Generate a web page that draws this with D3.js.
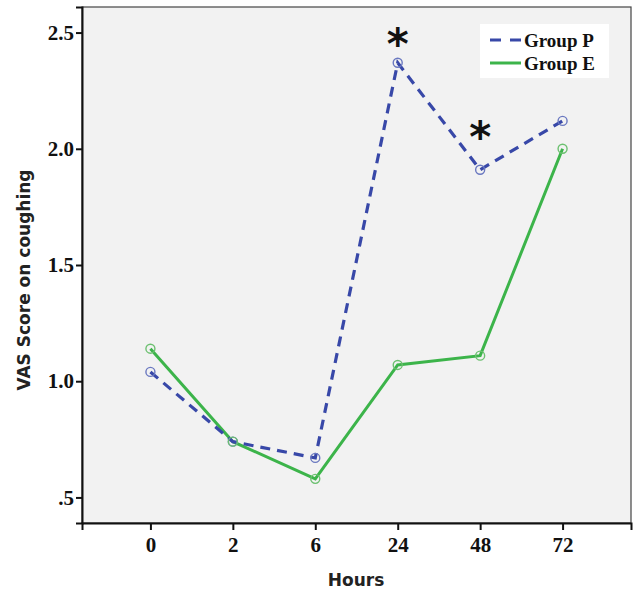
<!DOCTYPE html>
<html>
<head>
<meta charset="utf-8">
<script src="https://cdn.jsdelivr.net/npm/d3@7"></script>
<style>
  body { margin: 0; background: #fff; }
  svg { display: block; }
</style>
</head>
<body>
<svg id="chart" width="638" height="594"></svg>
<script>
// Data ------------------------------------------------------
const hours = ["0", "2", "6", "24", "48", "72"];
const groupP = [1.04, 0.74, 0.67, 2.37, 1.91, 2.12];
const groupE = [1.14, 0.74, 0.58, 1.07, 1.11, 2.00];
const yTicks = [0.5, 1.0, 1.5, 2.0, 2.5];
const yTickLabels = [".5", "1.0", "1.5", "2.0", "2.5"];
const starredHours = ["24", "48"];
const starOffsets = [0.13, 0.19]; // star centre above the Group P point (score units)

// Layout ---------------------------------------------------
let margin = { top: 7, right: 7, bottom: 71, left: 82 };
let width = 638 - margin.left - margin.right;
let height = 594 - margin.top - margin.bottom;

let svg = d3.select("#chart")
  .append("g")
  .attr("transform", `translate(${margin.left},${margin.top})`);

let x = d3.scalePoint().domain(hours).range([0, width]).padding(0.83);
let y = d3.scaleLinear().domain([0.39, 2.61]).range([height, 0]);

// plot background
svg.append("rect")
  .attr("width", width).attr("height", height)
  .attr("fill", "#f2f2f2")
  .attr("stroke", "#444").attr("stroke-width", 1.2);

// Axes
let yAxis = svg.append("g")
  .call(d3.axisLeft(y).tickValues(yTicks)
    .tickFormat((d, i) => yTickLabels[i]).tickSize(6).tickPadding(2));
let xAxis = svg.append("g")
  .attr("transform", `translate(0,${height})`)
  .call(d3.axisBottom(x).tickSize(7).tickPadding(7));

[xAxis, yAxis].forEach(a => {
  a.select(".domain").attr("stroke", "#111").attr("stroke-width", 2);
  a.selectAll(".tick line").attr("stroke", "#111").attr("stroke-width", 2);
  a.selectAll("text")
    .attr("font-family", "'Liberation Serif', 'Times New Roman', serif")
    .attr("font-weight", "bold")
    .attr("font-size", "21px")
    .attr("fill", "#111");
});

// Lines
let line = d3.line()
  .x((d, i) => x(hours[i]))
  .y(d => y(d));

svg.append("path")
  .datum(groupE)
  .attr("fill", "none")
  .attr("stroke", "#3cb44a")
  .attr("stroke-width", 3)
  .attr("d", line);

svg.append("path")
  .datum(groupP)
  .attr("fill", "none")
  .attr("stroke", "#3848a8")
  .attr("stroke-width", 3.2)
  .attr("stroke-dasharray", "10,7")
  .attr("d", line);

// markers
svg.selectAll("circle.p")
  .data(groupP).enter().append("circle")
  .attr("class", "p")
  .attr("cx", (d, i) => x(hours[i]))
  .attr("cy", d => y(d))
  .attr("r", 4.5)
  .attr("fill", "none")
  .attr("stroke", "#6a78c0")
  .attr("stroke-width", 1.4);

svg.selectAll("circle.e")
  .data(groupE).enter().append("circle")
  .attr("class", "e")
  .attr("cx", (d, i) => x(hours[i]))
  .attr("cy", d => y(d))
  .attr("r", 4.5)
  .attr("fill", "none")
  .attr("stroke", "#6cc070")
  .attr("stroke-width", 1.4);

// significance stars (baseline pushed down so the glyph centre hits the spot)
svg.selectAll("text.star")
  .data(starredHours).enter().append("text")
  .attr("class", "star")
  .attr("x", d => x(d))
  .attr("y", (d, i) => y(groupP[hours.indexOf(d)] + starOffsets[i]))
  .attr("text-anchor", "middle")
  .attr("dy", "0.62em")
  .attr("font-family", "'DejaVu Sans', sans-serif")
  .attr("font-weight", "bold")
  .attr("font-size", "42px")
  .attr("fill", "#111")
  .text("*");

// Legend
let legend = svg.append("g").attr("transform", `translate(${width - 151},17)`);
legend.append("rect")
  .attr("width", 129).attr("height", 54)
  .attr("fill", "#fff");
const legendItems = [
  { label: "Group P", color: "#3848a8", dash: "11,9" },
  { label: "Group E", color: "#3cb44a", dash: null }
];
legendItems.forEach((item, i) => {
  let g = legend.append("g").attr("transform", `translate(0,${16 + i * 23})`);
  g.append("line")
    .attr("x1", 10).attr("x2", 41)
    .attr("stroke", item.color)
    .attr("stroke-width", 3)
    .attr("stroke-dasharray", item.dash);
  g.append("text")
    .attr("x", 44).attr("dy", "0.35em")
    .attr("font-family", "'Liberation Serif', 'Times New Roman', serif")
    .attr("font-weight", "bold")
    .attr("font-size", "19px")
    .attr("fill", "#111")
    .text(item.label);
});

// Axis titles
svg.append("text")
  .attr("transform", `translate(${-52},${273}) rotate(-90)`)
  .attr("text-anchor", "middle")
  .attr("font-family", "'DejaVu Sans', sans-serif")
  .attr("font-weight", "bold")
  .attr("font-size", "17px")
  .attr("fill", "#222")
  .text("VAS Score on coughing");

svg.append("text")
  .attr("x", 274)
  .attr("y", height + 63)
  .attr("text-anchor", "middle")
  .attr("font-family", "'DejaVu Sans', sans-serif")
  .attr("font-weight", "bold")
  .attr("font-size", "17px")
  .attr("fill", "#222")
  .text("Hours");
</script>
</body>
</html>
